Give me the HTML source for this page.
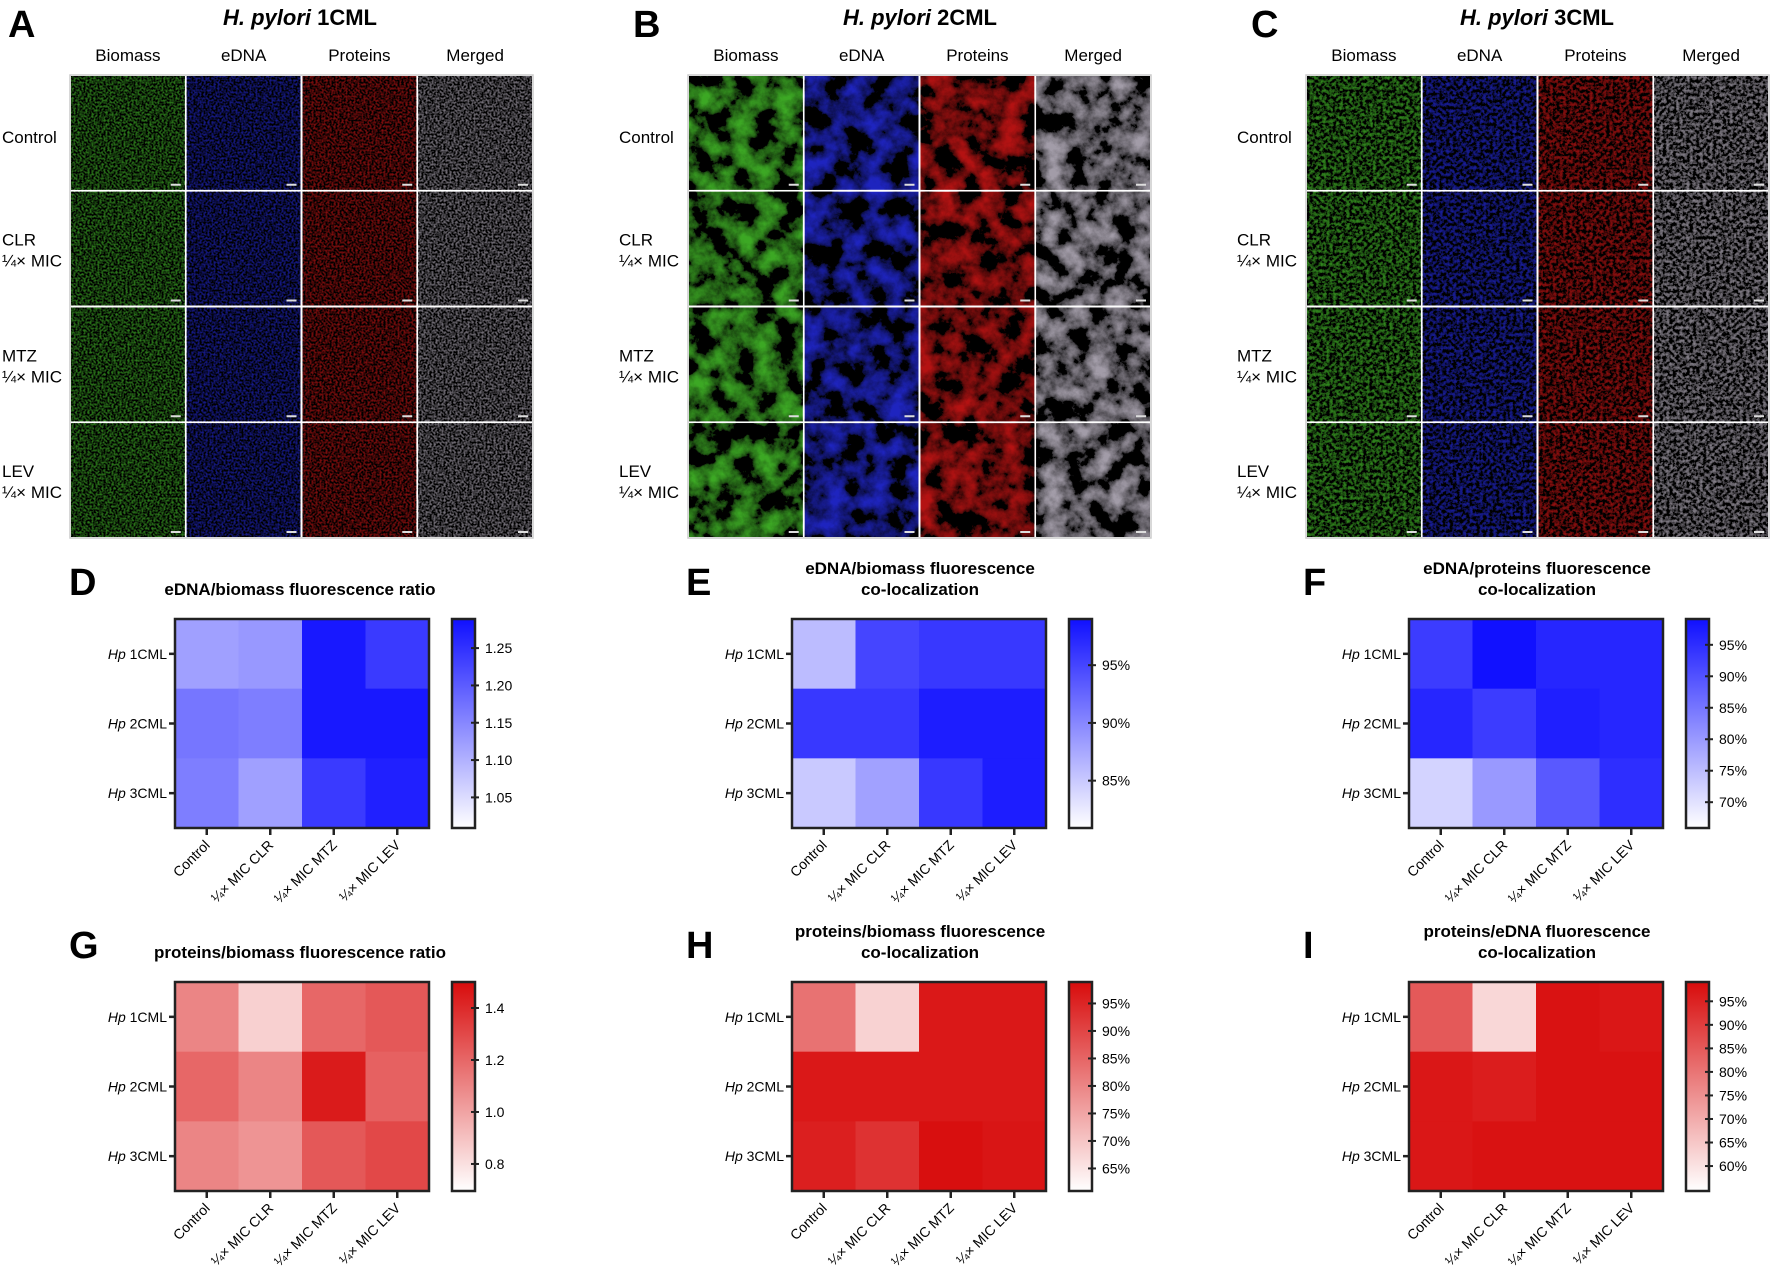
<!DOCTYPE html>
<html><head><meta charset="utf-8"><style>
html,body{margin:0;padding:0;background:#fff;}
svg{display:block;font-family:"Liberation Sans",Arial,sans-serif;}
</style></head><body>
<svg id="fig" width="1772" height="1272" viewBox="0 0 1772 1272" xmlns="http://www.w3.org/2000/svg">
<defs>
<filter id="fA" x="0" y="0" width="1" height="1"><feTurbulence type="fractalNoise" baseFrequency="0.5" numOctaves="2" seed="3"/><feColorMatrix type="matrix" values="2.6 0 0 0 -1.1  2.6 0 0 0 -1.1  2.6 0 0 0 -1.1  0 0 0 0 1"/></filter>
<filter id="fB" x="0" y="0" width="1" height="1"><feTurbulence type="fractalNoise" baseFrequency="0.045" numOctaves="6" seed="7"/><feColorMatrix type="matrix" values="2.6 0 0 0 -1.05  2.6 0 0 0 -1.05  2.6 0 0 0 -1.05  0 0 0 0 1"/></filter>
<filter id="fC" x="0" y="0" width="1" height="1"><feTurbulence type="fractalNoise" baseFrequency="0.3" numOctaves="3" seed="11"/><feColorMatrix type="matrix" values="2.6 0 0 0 -1.1  2.6 0 0 0 -1.1  2.6 0 0 0 -1.1  0 0 0 0 1"/></filter>
</defs>
<g id="root"></g>
</svg>
<script>
// ---- heatmap data ----
const categories = ["Control", "¼× MIC CLR", "¼× MIC MTZ", "¼× MIC LEV"];
const strains = ["1CML", "2CML", "3CML"];
const dValues = [[1.12,1.13,1.28,1.24],[1.17,1.16,1.28,1.28],[1.16,1.12,1.24,1.27]];
const eValues = [[86,95,96,96],[96,96,98,98],[85,88,96,98]];
const fValues = [[93,99,96,96],[96,93,97,96],[72,80,89,95]];
const gValues = [[1.10,0.85,1.20,1.25],[1.20,1.10,1.45,1.22],[1.10,1.05,1.25,1.30]];
const hValues = [[83,68,97,97],[97,97,97,97],[96,93,98.5,97.5]];
const iValues = [[85,62,98,97],[97,96,98,98],[97,98,98,98]];
const dTicks = [1.05,1.10,1.15,1.20,1.25];
const eTicks = [85,90,95];
const fTicks = [70,75,80,85,90,95];
const gTicks = [0.8,1.0,1.2,1.4];
const hTicks = [65,70,75,80,85,90,95];
const iTicks = [60,65,70,75,80,85,90,95];
const dRange = [1.009,1.289];
const eRange = [80.9,99.0];
const fRange = [65.9,99.1];
const gRange = [0.696,1.5];
const hRange = [60.9,98.9];
const iRange = [54.7,99.1];

const NS="http://www.w3.org/2000/svg";
const root=document.getElementById('root');
function mk(tag,attrs,parent){const e=document.createElementNS(NS,tag);for(const k in attrs)e.setAttribute(k,attrs[k]);(parent||root).appendChild(e);return e;}
function txt(s,attrs,parent){const e=mk('text',attrs,parent);e.textContent=s;return e;}

// ---- micrograph panels ----
const panels=[{x:70,cx:300,letter:"A",name:"1CML",lx:2,f:"fA",dim:0.55},{x:688,cx:920,letter:"B",name:"2CML",lx:619,f:"fB",dim:0.75},{x:1306,cx:1537,letter:"C",name:"3CML",lx:1237,f:"fC",dim:0.6}];
const chans=["Biomass","eDNA","Proteins","Merged"];
const rows=[["Control"],["CLR","¼× MIC"],["MTZ","¼× MIC"],["LEV","¼× MIC"]];
const cell=115.75, gy=75;
panels.forEach((p,pi)=>{
  const g=mk('g',{});
  
  
  const L=txt(p.letter,{x:p.letter=="A"?8:p.lx+14,y:37,'font-size':38,'font-weight':'bold'},g);
  
  
  const t=mk('text',{x:p.cx,y:25,'font-size':22,'font-weight':'bold','text-anchor':'middle'},g);
  
  
  const ts=mk('tspan',{'font-style':'italic'},t);ts.textContent="H. pylori ";
  const ts2=mk('tspan',{},t);ts2.textContent=p.name;
  chans.forEach((c,ci)=>{
    const h=txt(c,{x:p.x+cell*ci+cell/2,y:61,'font-size':17,'text-anchor':'middle'},g);
    
    
  });
  rows.forEach((r,ri)=>{
    const cy=gy+cell*ri+cell/2;
    r.forEach((line,li)=>{
      const yy=r.length==1?cy+10:cy-3+li*21;
      const rl=txt(line,{x:p.lx,y:yy,'font-size':17},g);
      
      
    });
    chans.forEach((c,ci)=>{
      const x=p.x+cell*ci+1, y=gy+cell*ri+1, w=cell-2;
      const gg=mk('g',{},g);
      
      
      mk('rect',{x:x,y:y,width:w,height:w,fill:'#000'},gg);
      const col=ci==0?'#50e030':ci==1?'#2830ff':ci==2?'#f01818':'#d8d0e0';
      mk('rect',{x:x,y:y,width:w,height:w,fill:'#fff',filter:'url(#'+p.f+')',opacity:p.dim},gg);
      mk('rect',{x:x,y:y,width:w,height:w,fill:col,style:'mix-blend-mode:multiply'},gg);
      mk('rect',{x:x+w-14,y:y+w-6,width:10,height:2,fill:'#ddd'},gg);
    });
  });
  mk('rect',{x:p.x,y:gy,width:cell*4,height:cell*4,fill:'none',stroke:'#ccc','stroke-width':1.5},g);
});

// ---- heatmaps ----
const blue=[16,16,255], red=[216,12,12];
function colorFor(v,range,c){let t=(v-range[0])/(range[1]-range[0]);t=Math.max(0,Math.min(1,t));
  return 'rgb('+[0,1,2].map(i=>Math.round(255+(c[i]-255)*t)).join(',')+')';}
const heatmaps=[
 {id:"d",letter:"D",x:175,y:619,title:["eDNA/biomass fluorescence ratio"],vals:dValues,ticks:dTicks,range:dRange,c:blue,pct:false,dec:2},
 {id:"e",letter:"E",x:792,y:619,title:["eDNA/biomass fluorescence","co-localization"],vals:eValues,ticks:eTicks,range:eRange,c:blue,pct:true},
 {id:"f",letter:"F",x:1409,y:619,title:["eDNA/proteins fluorescence","co-localization"],vals:fValues,ticks:fTicks,range:fRange,c:blue,pct:true},
 {id:"g",letter:"G",x:175,y:982,title:["proteins/biomass fluorescence ratio"],vals:gValues,ticks:gTicks,range:gRange,c:red,pct:false,dec:1},
 {id:"h",letter:"H",x:792,y:982,title:["proteins/biomass fluorescence","co-localization"],vals:hValues,ticks:hTicks,range:hRange,c:red,pct:true},
 {id:"i",letter:"I",x:1409,y:982,title:["proteins/eDNA fluorescence","co-localization"],vals:iValues,ticks:iTicks,range:iRange,c:red,pct:true}
];
const PW=254, PH=209;
heatmaps.forEach((hm,hi)=>{
  const g=mk('g',{});
  
  
  const cw=PW/categories.length, ch=PH/strains.length;
  const xs=i=>hm.x+i*cw, ys=j=>hm.y+j*ch;
  const L=txt(hm.letter,{x:hm.x-106,y:hm.y-24,'font-size':38,'font-weight':'bold'},g);
  
  
  hm.title.forEach((t,ti)=>{
    const tt=txt(t,{x:hm.title.length==1?hm.x+125:hm.x+128,y:(hm.title.length==1?hm.y-24:hm.y-45+ti*21),'font-size':17,'font-weight':'bold','text-anchor':'middle'},g);
    
    
  });
  hm.vals.forEach((row,j)=>row.forEach((v,i)=>{
    const r=mk('rect',{x:xs(i),y:ys(j),width:cw+0.5,height:ch+0.5,fill:colorFor(v,hm.range,hm.c)},g);
    
    
  }));
  mk('rect',{x:hm.x,y:hm.y,width:PW,height:PH,fill:'none',stroke:'#222','stroke-width':2.5},g);
  strains.forEach((s,j)=>{
    const yy=ys(j)+ch/2;
    mk('line',{x1:hm.x-6,x2:hm.x,y1:yy,y2:yy,stroke:'#222','stroke-width':2.5},g);
    const t=mk('text',{x:hm.x-8,y:yy+5,'font-size':14,'text-anchor':'end'},g);
    
    
    const a=mk('tspan',{'font-style':'italic'},t);a.textContent="Hp ";
    const b=mk('tspan',{},t);b.textContent=s;
  });
  categories.forEach((c,i)=>{
    const xx=xs(i)+cw/2, yb=hm.y+PH;
    mk('line',{x1:xx,x2:xx,y1:yb,y2:yb+7,stroke:'#222','stroke-width':2.5},g);
    const t=txt(c,{x:xx+4,y:yb+18,'font-size':14,'text-anchor':'end',transform:'rotate(-45 '+(xx+4)+' '+(yb+18)+')'},g);
    
    
  });
  const bx=hm.x+PW+23, bw=23;
  const gid='grad'+hm.id;
  const lg=mk('linearGradient',{id:gid,x1:0,y1:1,x2:0,y2:0},document.querySelector('defs'));
  mk('stop',{offset:0,'stop-color':colorFor(hm.range[0],hm.range,hm.c)},lg);
  mk('stop',{offset:1,'stop-color':colorFor(hm.range[1],hm.range,hm.c)},lg);
  const cb=mk('rect',{x:bx,y:hm.y,width:bw,height:PH,fill:'url(#'+gid+')',stroke:'#222','stroke-width':2.5},g);
  
  
  const cy=v=>hm.y+PH-(v-hm.range[0])/(hm.range[1]-hm.range[0])*PH;
  hm.ticks.forEach(v=>{
    const yy=cy(v);
    mk('line',{x1:bx+bw-4,x2:bx+bw+4,y1:yy,y2:yy,stroke:'#222','stroke-width':2},g);
    const lab=hm.pct?(v+'%'):v.toFixed(hm.dec);
    const t=txt(lab,{x:bx+bw+10,y:yy+5,'font-size':14},g);
    
    
  });
});
</script>
</body></html>
